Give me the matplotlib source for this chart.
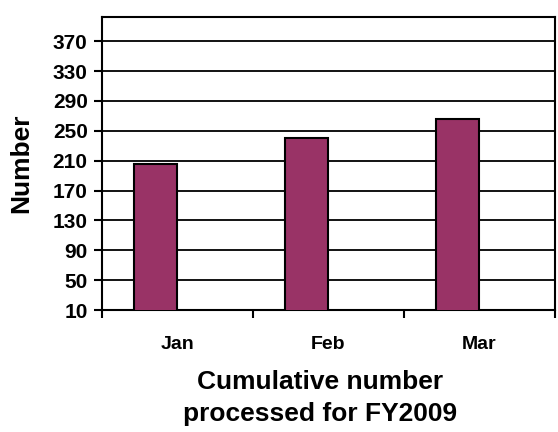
import matplotlib
matplotlib.use("Agg")
import matplotlib.pyplot as plt
import numpy as np

months = ["Jan", "Feb", "Mar"]
counts = [206, 241, 266]
y_ticks = list(range(10, 371, 40))

plt.rcParams["font.family"] = ["Liberation Sans", "DejaVu Sans"]
plt.rcParams["font.weight"] = "bold"

fig = plt.figure(figsize=(5.58, 4.32), dpi=100)
ax = fig.add_axes([0.182, 0.2824, 0.8126, 0.6776])

x = np.arange(len(months))
# bars sit just left of the category centre (empty second series in the original)
ax.bar(x, counts, width=-0.285, align="edge",
       color="#993366", edgecolor="black", linewidth=1.5, zorder=3)

ax.set_xlim(-0.5, 2.5)
ax.set_ylim(10, 402)
ax.set_yticks(y_ticks)
ax.set_yticklabels([str(v) for v in y_ticks], fontsize=15, fontweight="bold")
ax.yaxis.grid(True, color="black", linewidth=1.3, zorder=0)

ax.set_xticks(x)
ax.set_xticklabels(months, fontsize=14, fontweight="bold")
ax.tick_params(axis="x", length=0, pad=19)
ax.set_xticks([-0.5, 0.5, 1.5, 2.5], minor=True)
ax.tick_params(axis="x", which="minor", length=6, width=1.5, direction="out")
ax.tick_params(axis="y", length=6, width=1.5, direction="out", pad=4)

for s in ax.spines.values():
    s.set_linewidth(1.5)
    s.set_color("black")

ax.set_xlabel("Cumulative number\nprocessed for FY2009", fontsize=19,
              fontweight="bold", labelpad=12, linespacing=1.4)
ax.xaxis.label.set_x(0.482)
ax.set_ylabel("Number", fontsize=19, fontweight="bold", labelpad=14)

fig.savefig("out.png", dpi=100)
